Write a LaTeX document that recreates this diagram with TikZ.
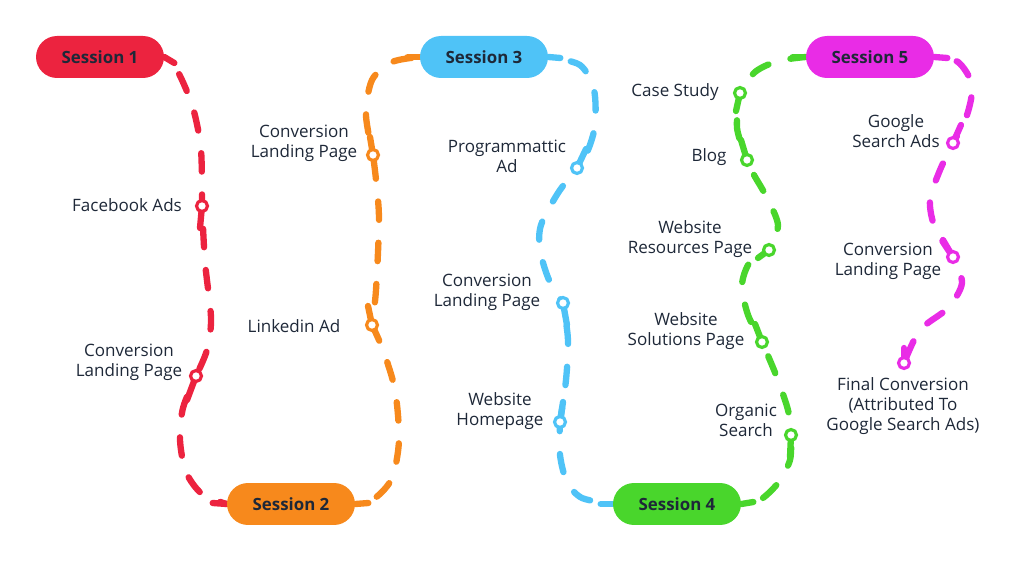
\documentclass[tikz,border=0pt]{standalone}
\usepackage{fontspec}
\setmainfont{Open Sans}
\pgfdeclarelayer{bg}
\pgfsetlayers{bg,main}
\definecolor{cred}{HTML}{EC233F}
\definecolor{corange}{HTML}{F7891C}
\definecolor{cblue}{HTML}{4FC3F7}
\definecolor{cgreen}{HTML}{49D62C}
\definecolor{cmag}{HTML}{E92CE6}
\definecolor{ink}{HTML}{1E2838}
\begin{document}
\begin{tikzpicture}[x=0.02cm,y=-0.02cm,
  pill/.style={rectangle, rounded corners=4.2mm, minimum width=2.56cm, minimum height=0.84cm, inner sep=0pt, text=ink, font=\fontsize{9.6}{11}\selectfont\bfseries},
  mk/.style={circle, draw, fill=white, line width=1.8pt, minimum size=2.2mm, inner sep=0pt},
  lbl/.style={text=ink, align=center, font=\fontsize{9.7}{11.3}\selectfont},
  trail/.style={line width=3.6pt, line cap=round, dash pattern=on 10.5pt off 13pt, dash phase=10.5pt},
  stemline/.style={line width=3.6pt, line cap=round},
]
\useasboundingbox (0,0) rectangle (1024,563);

% sessions
\node[pill, fill=cred]    (s1) at (100,57)  {Session 1};
\node[pill, fill=corange] (s2) at (291,504) {Session 2};
\node[pill, fill=cblue]   (s3) at (484,57)  {Session 3};
\node[pill, fill=cgreen]  (s4) at (677,504) {Session 4};
\node[pill, fill=cmag]    (s5) at (870,57)  {Session 5};

% markers
\node[mk, draw=cred]    (r1) at (202,206) {};
\node[mk, draw=cred]    (r2) at (196,376) {};
\node[mk, draw=corange] (o1) at (372,325) {};
\node[mk, draw=corange] (o2) at (373,155) {};
\node[mk, draw=cblue]   (b1) at (577,168) {};
\node[mk, draw=cblue]   (b2) at (563,303) {};
\node[mk, draw=cblue]   (b3) at (560,422) {};
\node[mk, draw=cgreen]  (g1) at (791,435) {};
\node[mk, draw=cgreen]  (g2) at (762,342) {};
\node[mk, draw=cgreen]  (g3) at (769,250) {};
\node[mk, draw=cgreen]  (g4) at (747,160) {};
\node[mk, draw=cgreen]  (g5) at (740,93) {};
\node[mk, draw=cmag]    (p1) at (953,143) {};
\node[mk, draw=cmag]    (p2) at (953,257) {};
\node[mk, draw=cmag]    (p3) at (904,363) {};

% labels
\node[lbl] (lr1) at (127,205) {Facebook Ads};
\node[lbl] (lr2) at (129,362) {Conversion\\Landing Page};
\node[lbl] (lo2) at (304,143) {Conversion\\Landing Page};
\node[lbl] (lo1) at (294,326) {Linkedin Ad};
\node[lbl] (lb1) at (507,156) {Programmattic\\Ad};
\node[lbl] (lb2) at (487,292) {Conversion\\Landing Page};
\node[lbl] (lb3) at (500,411) {Website\\Homepage};
\node[lbl] (lg5) at (675,92)  {Case Study};
\node[lbl] (lg4) at (709,157) {Blog};
\node[lbl] (lg3) at (690,239) {Website\\Resources Page};
\node[lbl] (lg2) at (686,331) {Website\\Solutions Page};
\node[lbl] (lg1) at (746,420) {Organic\\Search};
\node[lbl] (lp1) at (896,131) {Google\\Search Ads};
\node[lbl] (lp2) at (888,261) {Conversion\\Landing Page};
\node[lbl] (lp3) at (903,406) {Final Conversion\\(Attributed To\\Google Search Ads)};

\begin{pgfonlayer}{bg}
% red
\draw[stemline, cred] (s1.east) -- +(10,6);
\draw[stemline, cred] (s2.west) -- +(-14,-1);
\draw[stemline, cred] (r1.center) -- +(-2,22);
\draw[stemline, cred] (r2.center) -- +(-9,24);
\draw[trail, cred] plot[smooth] coordinates {(s1.east) (178,72) (193,108) (201,150) (r1.center)};
\draw[trail, cred] plot[smooth] coordinates {(r1.center) (205,262) (211,318) (207,350) (r2.center)};
\draw[trail, cred] plot[smooth] coordinates {(r2.center) (183,408) (180,440) (186,472) (202,494) (s2.west)};
% orange
\draw[stemline, corange] (s2.east) -- +(13,-1);
\draw[stemline, corange] (s3.west) -- +(-12,0);
\draw[stemline, corange] (o1.center) -- +(-4,-19);
\draw[stemline, corange] (o2.center) -- +(-3,-18);
\draw[trail, corange] plot[smooth] coordinates {(s2.east) (375,498) (392,478) (399,440) (395,390) (383,350) (o1.center)};
\draw[trail, corange] plot[smooth] coordinates {(o1.center) (376,290) (379,220) (376,180) (o2.center)};
\draw[trail, corange] plot[smooth] coordinates {(o2.center) (366,115) (372,80) (392,62) (s3.west)};
% blue
\draw[stemline, cblue] (s3.east) -- +(12,1);
\draw[stemline, cblue] (s4.west) -- +(-12,0);
\draw[stemline, cblue] (b1.center) -- +(9,-19);
\draw[stemline, cblue] (b2.center) -- +(4,22);
\draw[stemline, cblue] (b3.center) -- +(3,-20);
\draw[trail, cblue] plot[smooth] coordinates {(s3.east) (580,65) (594,90) (595,125) (588,150) (b1.center)};
\draw[trail, cblue] plot[smooth] coordinates {(b1.center) (558,193) (541,225) (540,250) (549,280) (b2.center)};
\draw[trail, cblue] plot[smooth] coordinates {(b2.center) (568,340) (566,380) (b3.center)};
\draw[trail, cblue] plot[smooth] coordinates {(s4.west) (582,498) (567,482) (560,455) (b3.center)};
% green
\draw[stemline, cgreen] (s4.east) -- +(12,-2);
\draw[stemline, cgreen] (s5.west) -- +(-13,0);
\draw[stemline, cgreen] (g1.center) -- +(-1,22);
\draw[stemline, cgreen] (g2.center) -- +(-7,-18);
\draw[stemline, cgreen] (g3.center) -- +(-11,8);
\draw[stemline, cgreen] (g4.center) -- +(-6,-20);
\draw[stemline, cgreen] (g5.center) -- +(-4,18);
\draw[trail, cgreen] plot[smooth] coordinates {(s4.east) (760,500) (778,483) (790,460) (g1.center)};
\draw[trail, cgreen] plot[smooth] coordinates {(g1.center) (788,410) (776,375) (g2.center)};
\draw[trail, cgreen] plot[smooth] coordinates {(g2.center) (748,315) (742,285) (750,262) (g3.center)};
\draw[trail, cgreen] plot[smooth] coordinates {(g3.center) (778,225) (766,196) (754,175) (g4.center)};
\draw[trail, cgreen] plot[smooth] coordinates {(g4.center) (737,128) (g5.center)};
\draw[trail, cgreen] plot[smooth] coordinates {(g5.center) (755,72) (778,61) (s5.west)};
% magenta
\draw[stemline, cmag] (s5.east) -- +(13,1);
\draw[stemline, cmag] (p1.center) -- +(8,-18);
\draw[stemline, cmag] (p2.center) -- +(-10,-17);
\draw[stemline, cmag] (p3.center) -- +(0,-15);
\draw[trail, cmag] plot[smooth] coordinates {(s5.east) (958,62) (972,85) (967,115) (p1.center)};
\draw[trail, cmag] plot[smooth] coordinates {(p1.center) (940,170) (930,200) (935,228) (p2.center)};
\draw[trail, cmag] plot[smooth] coordinates {(p2.center) (962,283) (948,308) (920,330) (p3.center)};
\end{pgfonlayer}
\end{tikzpicture}
\end{document}
